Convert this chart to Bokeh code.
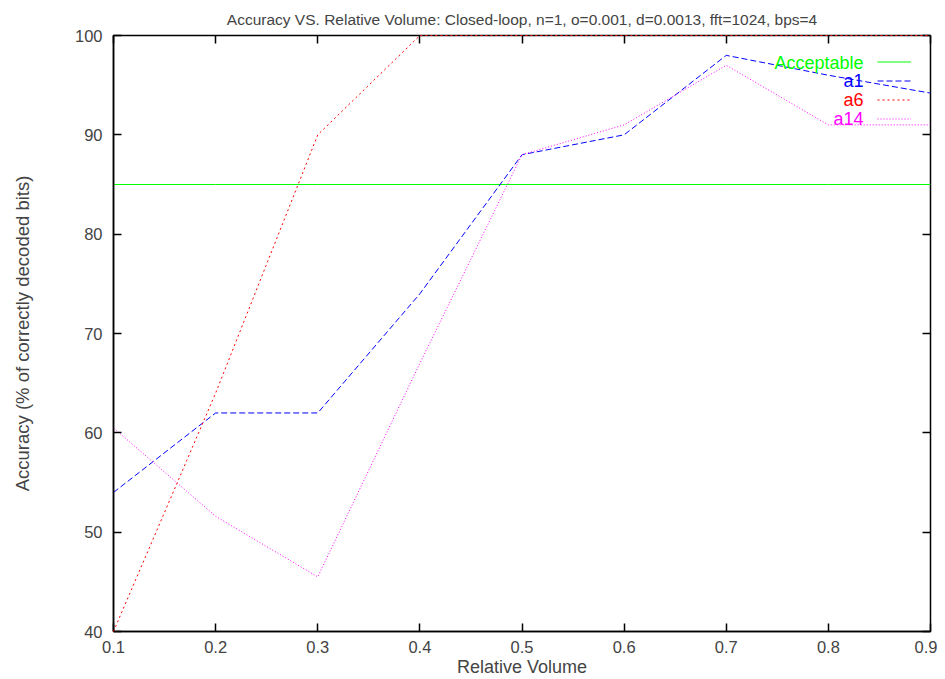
from bokeh.plotting import figure
from bokeh.models import (LinearAxis, FixedTicker, Legend, LegendItem, Label, Range1d)
from bokeh.embed import file_html
from bokeh.resources import INLINE

x_vals = [0.1, 0.2, 0.3, 0.4, 0.5, 0.6, 0.7, 0.8, 0.9]
acceptable = [85, 85, 85, 85, 85, 85, 85, 85, 85]
a1 = [54, 62, 62, 74, 88, 90, 98, 96, 94.2]
a6 = [40, 64, 90, 100, 100, 100, 100, 100, 100]
a14 = [60.5, 51.6, 45.5, 67, 88, 91, 97, 91, 91]
x_ticks = [0.1, 0.2, 0.3, 0.4, 0.5, 0.6, 0.7, 0.8, 0.9]
y_ticks = [40, 50, 60, 70, 80, 90, 100]
names = ["Acceptable", "a1", "a6", "a14"]
colors = ["#00ff00", "#0000ff", "#ff0000", "#ff00ff"]
title_text = "Accuracy VS. Relative Volume: Closed-loop, n=1, o=0.001, d=0.0013, fft=1024, bps=4"

FONT = "Liberation Sans"

p = figure(width=937, height=679, output_backend="svg", toolbar_location=None,
           x_range=Range1d(0.1, 0.9), y_range=Range1d(40, 100),
           min_border_left=113, min_border_right=7, min_border_top=35, min_border_bottom=47,
           title=title_text)
p.title.align = "center"
p.title.text_font = FONT
p.title.text_font_size = "15.5px"
p.title.text_font_style = "normal"
p.title.offset = 0
p.title.standoff = 16
p.grid.visible = False
p.outline_line_color = "black"
p.outline_line_width = 1.5
p.background_fill_color = "white"
p.border_fill_color = "white"

for ax in (p.xaxis[0], p.yaxis[0]):
    ax.major_tick_in = 8
    ax.major_tick_out = 0
    ax.minor_tick_line_color = None
    ax.axis_line_color = "black"
    ax.axis_line_width = 1.5
    ax.major_tick_line_width = 1.5
    ax.major_label_text_font = FONT
    ax.major_label_text_font_size = "16.5px"
    ax.axis_label_text_font = FONT
    ax.axis_label_text_font_size = "18.5px"
    ax.axis_label_text_font_style = "normal"

p.xaxis.ticker = FixedTicker(ticks=x_ticks)
p.yaxis.ticker = FixedTicker(ticks=y_ticks)
p.xaxis.axis_label = "Relative Volume"
p.yaxis.axis_label = "Accuracy (% of correctly decoded bits)"
p.xaxis.axis_label_text_font_size = "18px"
p.xaxis.major_label_standoff = 9
p.yaxis.major_label_standoff = 11
p.xaxis.axis_label_standoff = 1
p.yaxis.axis_label_standoff = 39

top = LinearAxis(ticker=FixedTicker(ticks=x_ticks), major_label_text_font_size="0px",
                 major_tick_in=8, major_tick_out=0, minor_tick_line_color=None,
                 axis_line_color=None, major_tick_line_width=1.5, major_label_standoff=0)
right = LinearAxis(ticker=FixedTicker(ticks=y_ticks), major_label_text_font_size="0px",
                   major_tick_in=8, major_tick_out=0, minor_tick_line_color=None,
                   axis_line_color=None, major_tick_line_width=1.5, major_label_standoff=0)
top.major_label_text_color = None
right.major_label_text_color = None
p.add_layout(top, "above")
p.add_layout(right, "right")

r_acc = p.line(x_vals, acceptable, line_color=colors[0], line_width=1)
r_a1 = p.line(x_vals, a1, line_color=colors[1], line_width=1, line_dash="6 3")
r_a6 = p.line(x_vals, a6, line_color=colors[2], line_width=1, line_dash="2 3", level="overlay")
r_a14 = p.line(x_vals, a14, line_color=colors[3], line_width=1, line_dash="1 2")

legend = Legend(items=[LegendItem(label=" ", renderers=[r]) for r in (r_acc, r_a1, r_a6, r_a14)],
                location=(764, 503), padding=0, margin=0, spacing=0,
                glyph_width=34, glyph_height=19, label_height=19, label_width=1,
                label_text_font_size="1px", background_fill_alpha=0,
                border_line_color=None)
p.add_layout(legend, "center")

for i, (n, c) in enumerate(zip(names, colors)):
    p.add_layout(Label(x=750, y=569 - 18.7 * i, x_units="screen", y_units="screen",
                       text=n, text_color=c, text_align="right", text_baseline="middle",
                       text_font=FONT, text_font_size="18px"))

open("out.html", "w").write(file_html(p, INLINE))
